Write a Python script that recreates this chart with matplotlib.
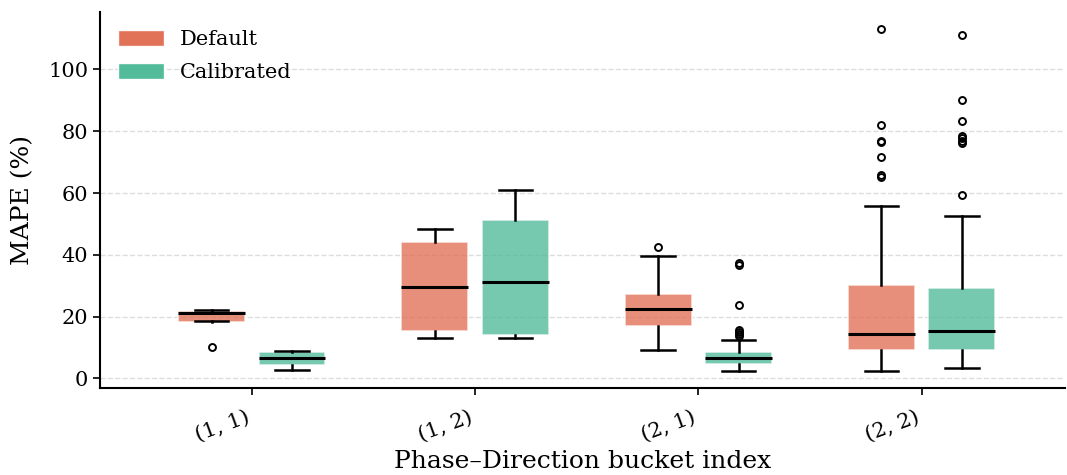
import numpy as np
import matplotlib.pyplot as plt
from matplotlib.patches import Patch

plt.rcParams["font.family"] = "DejaVu Serif"

buckets = ["(1, 1)", "(1, 2)", "(2, 1)", "(2, 2)"]
groups = ["Default", "Calibrated"]

# box statistics (MAPE %)
default_whislo = [18.5, 13.0, 9.1, 2.5]
default_q1 = [18.2, 15.5, 17.0, 9.3]
default_med = [21.3, 29.6, 22.6, 14.5]
default_q3 = [21.8, 44.2, 27.2, 30.1]
default_whishi = [22.1, 48.3, 39.7, 55.8]
default_fliers = [
    [10.2],
    [],
    [42.6],
    [113.0, 81.9, 76.8, 76.6, 71.5, 65.9, 65.3],
]

calib_whislo = [2.8, 13.0, 2.4, 3.3]
calib_q1 = [4.3, 14.2, 4.8, 9.1]
calib_med = [6.6, 31.2, 6.6, 15.3]
calib_q3 = [8.6, 51.2, 8.7, 29.3]
calib_whishi = [9.0, 61.0, 12.5, 52.5]
calib_fliers = [
    [],
    [],
    [37.2, 36.6, 23.9, 15.7, 15.0, 14.3, 13.9],
    [111.2, 90.1, 83.2, 78.4, 77.7, 76.8, 76.2, 59.4],
]

colors = {"Default": "#e06a4e", "Calibrated": "#48b895"}


def make_stats(whislo, q1, med, q3, whishi, fliers):
    stats = []
    for i in range(len(med)):
        stats.append(dict(whislo=whislo[i], q1=q1[i], med=med[i], q3=q3[i],
                          whishi=whishi[i], fliers=fliers[i]))
    return stats


fig = plt.figure(figsize=(10.67, 4.75), dpi=100)
ax = fig.add_axes([0.0937, 0.183, 0.904, 0.792])

x = np.arange(len(buckets))
offset = 0.18
width = 0.3

all_stats = {
    "Default": make_stats(default_whislo, default_q1, default_med, default_q3,
                          default_whishi, default_fliers),
    "Calibrated": make_stats(calib_whislo, calib_q1, calib_med, calib_q3,
                             calib_whishi, calib_fliers),
}

for k, g in enumerate(groups):
    pos = x + (-offset if k == 0 else offset)
    ax.bxp(
        all_stats[g],
        positions=pos,
        widths=width,
        patch_artist=True,
        boxprops=dict(facecolor=colors[g], edgecolor="white", alpha=0.75, linewidth=1.2),
        medianprops=dict(color="black", linewidth=2.2),
        whiskerprops=dict(color="black", linewidth=1.8),
        capprops=dict(color="black", linewidth=1.8),
        flierprops=dict(marker="o", markerfacecolor="none", markeredgecolor="black",
                        markersize=5, markeredgewidth=1.4),
        manage_ticks=False,
    )

ax.set_xticks(x)
ax.set_xticklabels(buckets, rotation=20, ha="right", fontsize=15)
ax.set_xlim(-0.68, 3.64)
ax.set_ylim(-3.1, 118.6)
ax.set_yticks([0, 20, 40, 60, 80, 100])
ax.tick_params(axis="y", labelsize=15, length=5, width=1.2)
ax.tick_params(axis="x", length=5, width=1.2, pad=9)

ax.yaxis.grid(True, linestyle="--", color="#dddddd", linewidth=1)
ax.set_axisbelow(True)
for s in ["top", "right"]:
    ax.spines[s].set_visible(False)
for s in ["left", "bottom"]:
    ax.spines[s].set_linewidth(1.5)

ax.set_xlabel("Phase\u2013Direction bucket index", fontsize=18, labelpad=4)
ax.set_ylabel("MAPE (%)", fontsize=18, labelpad=10)

handles = [Patch(facecolor=colors[g], edgecolor="white", alpha=0.95, label=g) for g in groups]
ax.legend(handles=handles, loc="upper left", frameon=False, fontsize=15,
          handlelength=2.2, handleheight=0.85, labelspacing=0.65,
          borderaxespad=0.45)

fig.savefig("out.png", dpi=100)
